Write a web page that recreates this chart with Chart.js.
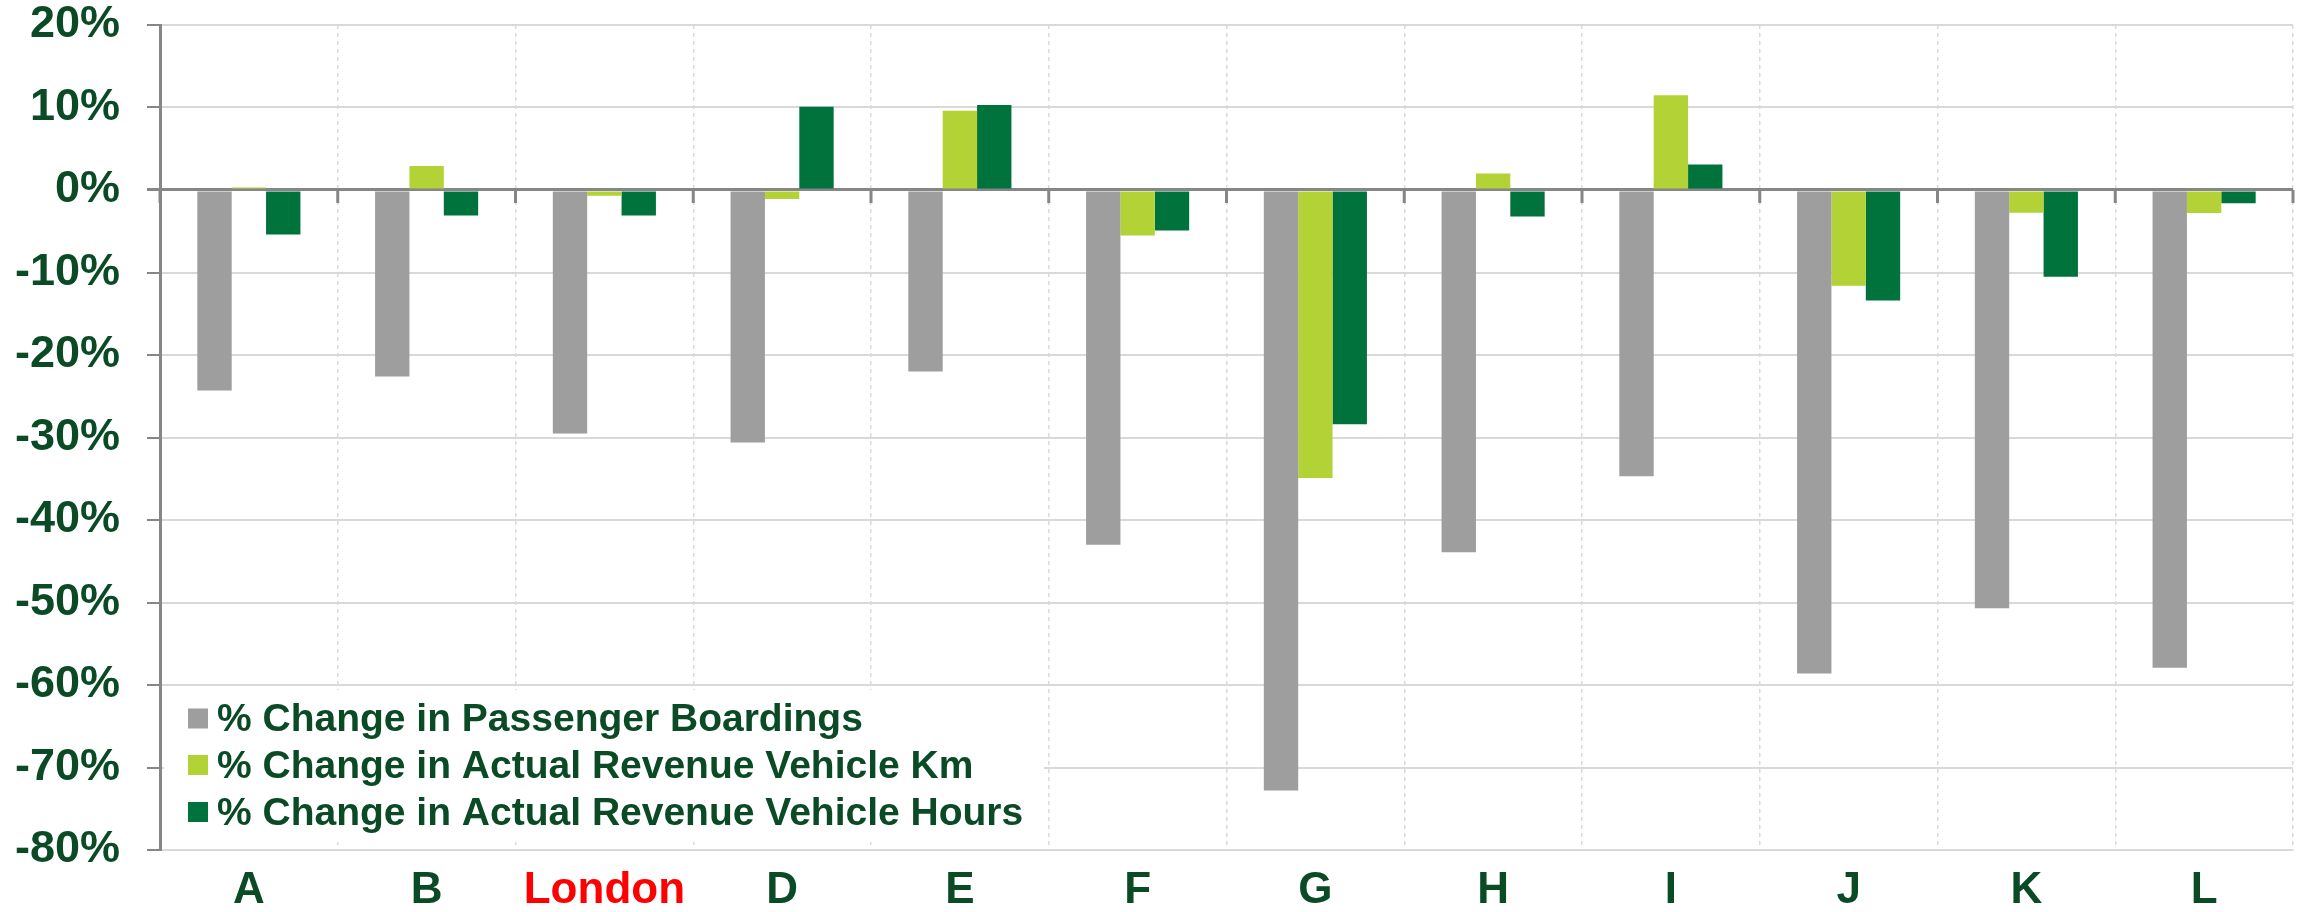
<!DOCTYPE html>
<html>
<head>
<meta charset="utf-8">
<script src="https://cdn.jsdelivr.net/npm/chart.js@4.4.1/dist/chart.umd.min.js"></script>
<style>
  html, body { margin: 0; padding: 0; background: #fff; }
  #wrap { width: 2297px; height: 912px; position: relative; }
</style>
</head>
<body>
<div id="wrap"><canvas id="chart"></canvas></div>
<script>
const categories = ['A', 'B', 'London', 'D', 'E', 'F', 'G', 'H', 'I', 'J', 'K', 'L'];
const boardings = [-24.3, -22.6, -29.5, -30.6, -22.0, -43.0, -72.8, -43.9, -34.7, -58.6, -50.7, -57.9];
const vehicleKm = [0.3, 2.9, -0.7, -1.1, 9.6, -5.5, -34.9, 2.0, 11.5, -11.6, -2.75, -2.8];
const vehicleHours = [-5.4, -3.1, -3.1, 10.1, 10.3, -4.9, -28.4, -3.2, 3.1, -13.4, -10.5, -1.6];
const seriesNames = [
    '% Change in Passenger Boardings',
    '% Change in Actual Revenue Vehicle Km',
    '% Change in Actual Revenue Vehicle Hours'
];
const seriesColors = ['#9E9E9E', '#B2D235', '#00733C'];
const yMin = -80;
const yMax = 20;
const yStep = 10;

const textGreen = '#0A4A25';
const axisGray = '#868686';
const gridGray = '#D9D9D9';

Chart.defaults.font.family = "'Liberation Sans', Arial, sans-serif";

// small tick marks hanging under the zero line, at category borders
const zeroTicks = {
    id: 'zeroTicks',
    afterDatasetsDraw(chart) {
        const x = chart.scales.x;
        const y = chart.scales.y;
        const y0 = y.getPixelForValue(0);
        const ctx = chart.ctx;
        ctx.save();
        ctx.strokeStyle = axisGray;
        ctx.lineWidth = 3;
        ctx.beginPath();
        for (let i = 0; i <= categories.length; i++) {
            const px = x.left + i * x.width / categories.length;
            ctx.moveTo(px, y0);
            ctx.lineTo(px, y0 + 13);
        }
        ctx.stroke();
        ctx.restore();
    }
};

// legend inside the plot, bottom left, on a white box
const insideLegend = {
    id: 'insideLegend',
    afterDatasetsDraw(chart) {
        const ctx = chart.ctx;
        const area = chart.chartArea;
        const left = area.left + 4;
        const bottom = area.bottom;
        ctx.save();
        ctx.fillStyle = '#ffffff';
        ctx.fillRect(left, bottom - 160, 880, 152);
        ctx.font = "bold 39px 'Liberation Sans', Arial, sans-serif";
        ctx.textBaseline = 'middle';
        const rows = [131.5, 85, 38];
        chart.data.datasets.forEach((ds, i) => {
            const cy = bottom - rows[i];
            ctx.fillStyle = ds.backgroundColor;
            ctx.fillRect(left + 24, cy - 10, 20, 20);
            ctx.fillStyle = textGreen;
            ctx.fillText(ds.label, left + 53, cy + 2);
        });
        ctx.restore();
    }
};

const data = {
    labels: categories,
    datasets: [
        { label: seriesNames[0], data: boardings, backgroundColor: seriesColors[0] },
        { label: seriesNames[1], data: vehicleKm, backgroundColor: seriesColors[1] },
        { label: seriesNames[2], data: vehicleHours, backgroundColor: seriesColors[2] }
    ]
};

const config = {
    type: 'bar',
    data: data,
    options: {
        responsive: true,
        maintainAspectRatio: false,
        animation: false,
        datasets: {
            bar: { categoryPercentage: 0.58, barPercentage: 1.0 }
        },
        layout: { padding: { left: 0, right: 4, top: 25, bottom: 0 } },
        plugins: {
            legend: { display: false },
            tooltip: { enabled: false }
        },
        scales: {
            x: {
                offset: true,
                grid: {
                    offset: true,
                    color: gridGray,
                    lineWidth: 1.5,
                    drawTicks: false
                },
                border: { display: true, color: gridGray, width: 2, dash: [4, 4] },
                ticks: {
                    padding: 14,
                    font: { size: 44, weight: 'bold' },
                    color: (c) => categories[c.index] === 'London' ? '#FF0000' : textGreen
                },
                afterFit(scale) {
                    scale.height = 62;
                    scale.paddingLeft = 0;
                    scale.paddingRight = 0;
                }
            },
            y: {
                min: yMin,
                max: yMax,
                ticks: {
                    stepSize: yStep,
                    padding: 27,
                    font: { size: 45, weight: 'bold' },
                    color: textGreen,
                    callback: (v) => v + '%'
                },
                grid: {
                    color: (c) => c.tick && c.tick.value === 0 ? axisGray : gridGray,
                    lineWidth: (c) => c.tick && c.tick.value === 0 ? 3 : 2,
                    tickColor: axisGray,
                    tickLength: 13
                },
                border: { display: true, color: axisGray, width: 3 },
                afterFit(scale) {
                    scale.width = 160;
                    scale.paddingTop = 0;
                    scale.paddingBottom = 0;
                }
            }
        }
    },
    plugins: [zeroTicks, insideLegend]
};

const chart = new Chart(document.getElementById('chart'), config);
</script>
</body>
</html>
